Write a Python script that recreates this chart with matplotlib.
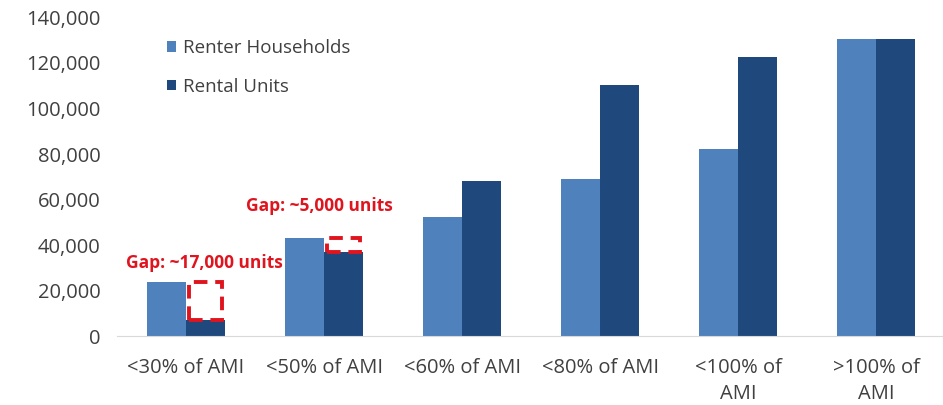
import numpy as np
import matplotlib
matplotlib.use("Agg")
from matplotlib import pyplot as plt
from matplotlib.patches import Rectangle

categories = ["<30% of AMI", "<50% of AMI", "<60% of AMI", "<80% of AMI",
              "<100% of\nAMI", ">100% of\nAMI"]
renter_households = [24000, 43000, 52500, 69000, 82000, 130500]
rental_units = [7000, 37000, 68000, 110500, 122800, 130500]
gap_labels = ["Gap: ~17,000 units", "Gap: ~5,000 units"]
yticks = np.arange(0, 140001, 20000)

LIGHT = "#4F81BD"
DARK = "#1F497D"
RED = "#E0141E"
GREY = "#404040"

plt.rcParams['font.family'] = ['Open Sans', 'DejaVu Sans']

fig = plt.figure(figsize=(9.43, 4.05), dpi=100)
ax = fig.add_axes([117 / 943, 0.170, 828 / 943, 0.787])

x = np.arange(len(categories))
width = 0.28
ax.bar(x - width / 2, renter_households, width, color=LIGHT, label="Renter Households")
ax.bar(x + width / 2, rental_units, width, color=DARK, label="Rental Units")

# dashed boxes showing shortfall of units
for i in range(2):
    low, high = rental_units[i], renter_households[i]
    ax.add_patch(Rectangle((x[i] + 0.02, low), width - 0.04, high - low,
                           fill=False, edgecolor=RED, linewidth=2.8,
                           linestyle=(0, (3.5, 2)), zorder=3))

ax.text(x[0] + 0.13, 32000, gap_labels[0], color=RED, fontsize=12.5,
        fontweight="bold", ha="center", va="center")
ax.text(x[1] - 0.03, 57000, gap_labels[1], color=RED, fontsize=12.5,
        fontweight="bold", ha="center", va="center")

ax.set_xlim(-0.5, len(categories) - 0.5)
ax.set_ylim(0, 140000)
ax.set_yticks(yticks)
ax.set_yticklabels([f"{v:,}" for v in yticks])
ax.set_xticks(x)
ax.set_xticklabels(categories, linespacing=1.35)
ax.tick_params(axis="both", length=0, labelsize=14.5, colors=GREY)
ax.tick_params(axis="y", pad=12)
ax.tick_params(axis="x", pad=16)

for side in ["top", "right", "left"]:
    ax.spines[side].set_visible(False)
ax.spines["bottom"].set_color("#D9D9D9")

leg = ax.legend(loc="upper left", bbox_to_anchor=(0.04, 0.985), frameon=False,
                fontsize=13.5, labelspacing=1.1, handlelength=0.5, handleheight=0.5,
                handletextpad=0.35)
for t in leg.get_texts():
    t.set_color(GREY)

fig.savefig("out.png", dpi=100)
